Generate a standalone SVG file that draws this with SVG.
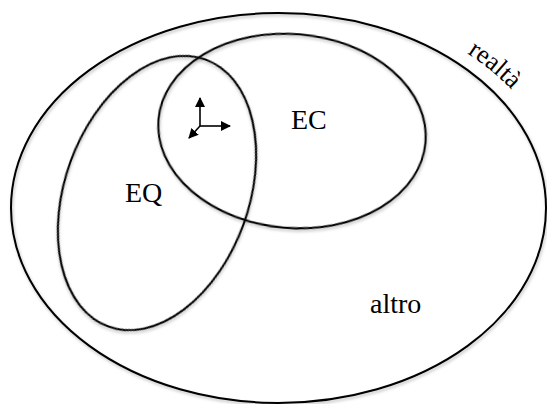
<svg xmlns="http://www.w3.org/2000/svg" width="547" height="404" viewBox="0 0 547 404">
  <defs>
    <filter id="sh" x="-10%" y="-10%" width="120%" height="120%">
      <feDropShadow dx="1" dy="2" stdDeviation="1.5" flood-color="#000" flood-opacity="0.25"/>
    </filter>
    <marker id="ah" viewBox="0 0 10 10" refX="9" refY="5" markerWidth="10" markerHeight="10" markerUnits="userSpaceOnUse" orient="auto">
      <path d="M0,0 L10,5 L0,10 z" fill="#000"/>
    </marker>
    <path id="realtaPath" d="M375.6,13.5 A284,207 0 0,1 558.2,172"/>
  </defs>
  <style>
    .set { fill: none; stroke: #000; stroke-width: 2; filter: url(#sh); }
    .lbl { font-family: "Liberation Serif", "Times New Roman", serif; font-size: 28px; fill: #000; }
    .small { font-size: 26px; }
    .ax { stroke: #000; stroke-width: 1.6; fill: none; marker-end: url(#ah); }
  </style>
  <rect width="547" height="404" fill="#fff"/>
  <g id="realta">
    <ellipse class="set" cx="278.5" cy="208" rx="267.5" ry="195"/>
    <text class="lbl small"><textPath href="#realtaPath" startOffset="100">realtà</textPath></text>
  </g>
  <g id="EC">
    <ellipse class="set" cx="292" cy="131" rx="134" ry="97" transform="rotate(5 292 131)"/>
    <text class="lbl" x="291" y="129">EC</text>
  </g>
  <g id="EQ">
    <ellipse class="set" cx="157" cy="193" rx="92" ry="142" transform="rotate(20 157 193)"/>
    <text class="lbl" x="125" y="202">EQ</text>
  </g>
  <g id="altro">
    <text class="lbl" x="370" y="313">altro</text>
  </g>
  <g id="connectors">
    <line class="ax" x1="200" y1="126" x2="200" y2="98"/>
    <line class="ax" x1="200" y1="126" x2="230" y2="126"/>
    <line class="ax" x1="200" y1="126" x2="189" y2="138"/>
  </g>
</svg>
